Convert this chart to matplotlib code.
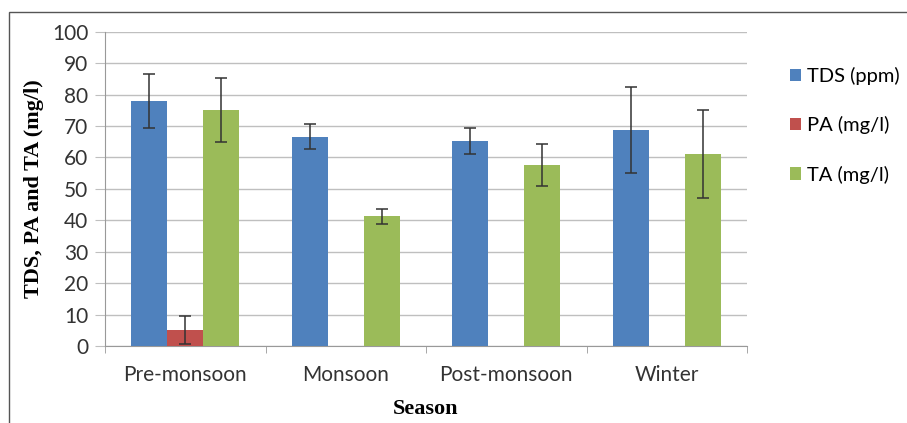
import matplotlib

matplotlib.use("Agg")
import matplotlib.pyplot as plt
import numpy as np
from matplotlib.patches import Rectangle

# Data
seasons = ["Pre-monsoon", "Monsoon", "Post-monsoon", "Winter"]
tds = [78.0, 66.6, 65.3, 68.8]
tds_err = [8.6, 4.0, 4.2, 13.7]
pa = [5.0, 0.0, 0.0, 0.0]
pa_err = [4.4, 0.0, 0.0, 0.0]
ta = [75.0, 41.3, 57.6, 61.0]
ta_err = [10.2, 2.4, 6.8, 14.0]

series = [
    ("TDS (ppm)", tds, tds_err, "#4F81BD"),
    ("PA (mg/l)", pa, pa_err, "#C0504D"),
    ("TA (mg/l)", ta, ta_err, "#9BBB59"),
]

TICK_FS = 15
LEG_FS = 14.5

fig = plt.figure(figsize=(9.07, 4.23), dpi=100)
ax = fig.add_axes([0.1158, 0.182, 0.7078, 0.743])

x = np.arange(len(seasons))
width = 0.225
offsets = [-width, 0.0, width]
handles = []
for (label, vals, errs, color), off in zip(series, offsets):
    show = [i for i, v in enumerate(vals) if v > 0]
    b = ax.bar(x[show] + off, [vals[i] for i in show], width=width,
               color=color, label=label, zorder=3)
    ax.errorbar(x[show] + off, [vals[i] for i in show],
                yerr=[errs[i] for i in show], fmt="none", ecolor="#333333",
                elinewidth=1.1, capsize=4, capthick=1.1, zorder=4)
    handles.append(b)

ax.set_xlim(-0.5, len(seasons) - 0.5)
ax.set_ylim(0, 100)
ax.set_yticks(np.arange(0, 101, 10))
ax.yaxis.grid(True, color="#bfbfbf", linewidth=1.0, zorder=0)
ax.set_axisbelow(True)

ax.set_xticks(x)
ax.set_xticklabels(seasons, fontsize=TICK_FS, family="Lato", color="#333333")
ax.set_xticks(np.arange(-0.5, len(seasons)), minor=True)
ax.tick_params(axis="x", which="major", length=0, pad=14)
ax.tick_params(axis="x", which="minor", length=5, color="#999999")
ax.tick_params(axis="y", length=7, color="#bfbfbf", labelsize=TICK_FS,
               labelcolor="#333333", pad=5)
for t in ax.get_yticklabels():
    t.set_family("Lato")

for side in ("top", "right"):
    ax.spines[side].set_visible(False)
ax.spines["left"].set_color("#999999")
ax.spines["bottom"].set_color("#999999")

ax.set_ylabel("TDS, PA and TA (mg/l)", family="Liberation Serif",
              fontweight="bold", fontsize=16, labelpad=6)
ax.set_xlabel("Season", family="Liberation Serif", fontweight="bold",
              fontsize=16, labelpad=10)

ax.legend(handles=handles, loc="upper left",
          bbox_to_anchor=(790 / 907, 1 - 67 / 423),
          bbox_transform=fig.transFigure, borderaxespad=0, borderpad=0,
          frameon=False, handlelength=0.55, handleheight=0.55,
          handletextpad=0.3, labelspacing=1.55,
          prop={"family": "Lato", "size": LEG_FS})

# Outer frame of the original figure (only top and left edges visible)
fig.add_artist(Rectangle((9 / 907, -0.05), 1.1, 0.05 + (1 - 12 / 423),
                         transform=fig.transFigure, fill=False,
                         edgecolor="#555555", linewidth=1.0))

fig.savefig("out.png", dpi=100)
